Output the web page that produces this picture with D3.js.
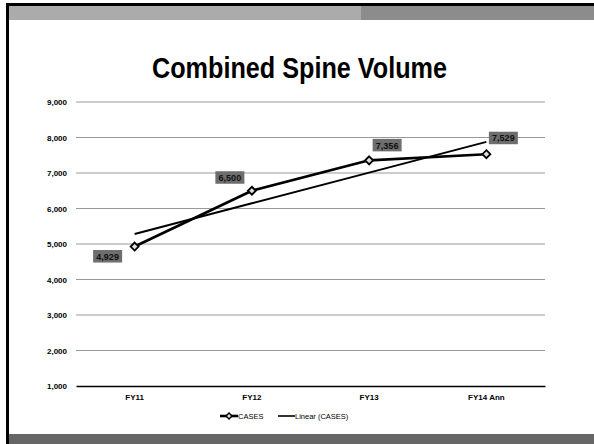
<!DOCTYPE html>
<html>
<head>
<meta charset="utf-8">
<script src="https://cdn.jsdelivr.net/npm/d3@7/dist/d3.min.js"></script>
<style>
  html, body { margin: 0; padding: 0; background: #fff; }
  svg { display: block; font-family: "Liberation Sans", Arial, sans-serif; }
</style>
</head>
<body>
<svg id="chart" width="594" height="444"></svg>
<script>
// Fiscal-year case volumes
const categories = ["FY11", "FY12", "FY13", "FY14 Ann"];
const cases = [4929, 6500, 7356, 7529];
const yTicks = [1000, 2000, 3000, 4000, 5000, 6000, 7000, 8000, 9000];
const titleText = "Combined Spine Volume";
const legendLabels = ["CASES", "Linear (CASES)"];

const svg = d3.select("#chart");
const W = 594, H = 444;

// Slide frame: header strip, footer band, black edges
svg.append("rect").attr("x", 9).attr("y", 6).attr("width", 352).attr("height", 14).attr("fill", "#ababab");
svg.append("rect").attr("x", 361).attr("y", 6).attr("width", W - 361).attr("height", 14).attr("fill", "#8c8c8c");
svg.append("rect").attr("x", 9).attr("y", 434).attr("width", W - 9).attr("height", 10).attr("fill", "#666666");
svg.append("rect").attr("x", 6).attr("y", 3).attr("width", W - 6).attr("height", 3).attr("fill", "#000");
svg.append("rect").attr("x", 6).attr("y", 3).attr("width", 3).attr("height", H - 3).attr("fill", "#000");

// Title, set in a condensed bold face
svg.append("text")
  .attr("x", 152).attr("y", 78)
  .attr("font-size", 29).attr("font-weight", "bold")
  .attr("textLength", 295).attr("lengthAdjust", "spacingAndGlyphs")
  .attr("fill", "#000")
  .text(titleText);

// Scales
const plot = { left: 76, right: 545, top: 102, bottom: 386 };
const x = d3.scaleBand().domain(categories).range([plot.left, plot.right]).padding(0);
const y = d3.scaleLinear().domain([1000, 9000]).range([plot.bottom, plot.top]);
const cx = d => x(d) + x.bandwidth() / 2;

// Gridlines
svg.append("g").selectAll("line")
  .data(yTicks.filter(t => t !== 1000))
  .join("line")
  .attr("x1", plot.left).attr("x2", plot.right)
  .attr("y1", d => y(d)).attr("y2", d => y(d))
  .attr("stroke", "#999").attr("stroke-width", 1.2);

// Y axis labels
const yAxis = svg.append("g")
  .attr("transform", `translate(${plot.left},0)`)
  .call(d3.axisLeft(y).tickValues(yTicks).tickFormat(d3.format(",")).tickSize(0).tickPadding(9));
yAxis.select(".domain").remove();
yAxis.selectAll("text").attr("font-size", 8).attr("font-weight", "bold").attr("fill", "#000")
  .attr("font-family", "Liberation Sans, Arial, sans-serif");

// X axis
const xAxis = svg.append("g")
  .attr("transform", `translate(0,${plot.bottom})`)
  .call(d3.axisBottom(x).tickSize(0).tickPadding(8));
xAxis.select(".domain").attr("stroke", "#000").attr("stroke-width", 1.5);
xAxis.selectAll("text").attr("font-size", 8).attr("font-weight", "bold").attr("fill", "#000")
  .attr("font-family", "Liberation Sans, Arial, sans-serif");

// Least-squares trend over the category index
const xs = cases.map((_, i) => i + 1);
const mx = d3.mean(xs), my = d3.mean(cases);
const slope = d3.sum(xs.map((xi, i) => (xi - mx) * (cases[i] - my))) / d3.sum(xs.map(xi => (xi - mx) ** 2));
const intercept = my - slope * mx;
const trend = xs.map(xi => intercept + slope * xi);

const line = d3.line().x((d, i) => cx(categories[i])).y(d => y(d));

svg.append("path").datum(trend)
  .attr("d", line).attr("fill", "none")
  .attr("stroke", "#000").attr("stroke-width", 2);

svg.append("path").datum(cases)
  .attr("d", line).attr("fill", "none")
  .attr("stroke", "#000").attr("stroke-width", 2.6).attr("stroke-linejoin", "round");

// Diamond markers
const diamond = "M0,-4L4,0L0,4L-4,0Z";
svg.append("g").selectAll("path")
  .data(cases)
  .join("path")
  .attr("d", diamond)
  .attr("transform", (d, i) => `translate(${cx(categories[i])},${y(d)})`)
  .attr("fill", "#ddd").attr("stroke", "#000").attr("stroke-width", 1.8);

// Value labels in gray boxes, nudged off the line
const labelNudge = [[-27, 10], [-22, -13], [18, -15], [17, -16]];
const fmt = d3.format(",");
const lbl = svg.append("g").selectAll("g")
  .data(cases)
  .join("g")
  .attr("transform", (d, i) => `translate(${cx(categories[i]) + labelNudge[i][0]},${y(d) + labelNudge[i][1]})`);
lbl.append("rect")
  .attr("x", -14.5).attr("y", -6.5).attr("width", 29).attr("height", 12.5)
  .attr("fill", "#6e6e6e");
lbl.append("text")
  .attr("text-anchor", "middle").attr("y", 3.2)
  .attr("font-size", 9).attr("font-weight", "bold").attr("fill", "#111")
  .text(d => fmt(d));

// Legend
const leg = svg.append("g").attr("transform", "translate(0,416)");
leg.append("line").attr("x1", 220).attr("x2", 238).attr("y1", 0).attr("y2", 0)
  .attr("stroke", "#000").attr("stroke-width", 2.6);
leg.append("path").attr("d", "M0,-3L3,0L0,3L-3,0Z").attr("transform", "translate(229,0)")
  .attr("fill", "#ddd").attr("stroke", "#000").attr("stroke-width", 1.5);
leg.append("text").attr("x", 238).attr("y", 2.6).attr("font-size", 7.5).attr("fill", "#000").text(legendLabels[0]);
leg.append("line").attr("x1", 278).attr("x2", 295).attr("y1", 0).attr("y2", 0)
  .attr("stroke", "#000").attr("stroke-width", 1.6);
leg.append("text").attr("x", 295).attr("y", 2.6).attr("font-size", 7.5).attr("fill", "#000").text(legendLabels[1]);
</script>
</body>
</html>
